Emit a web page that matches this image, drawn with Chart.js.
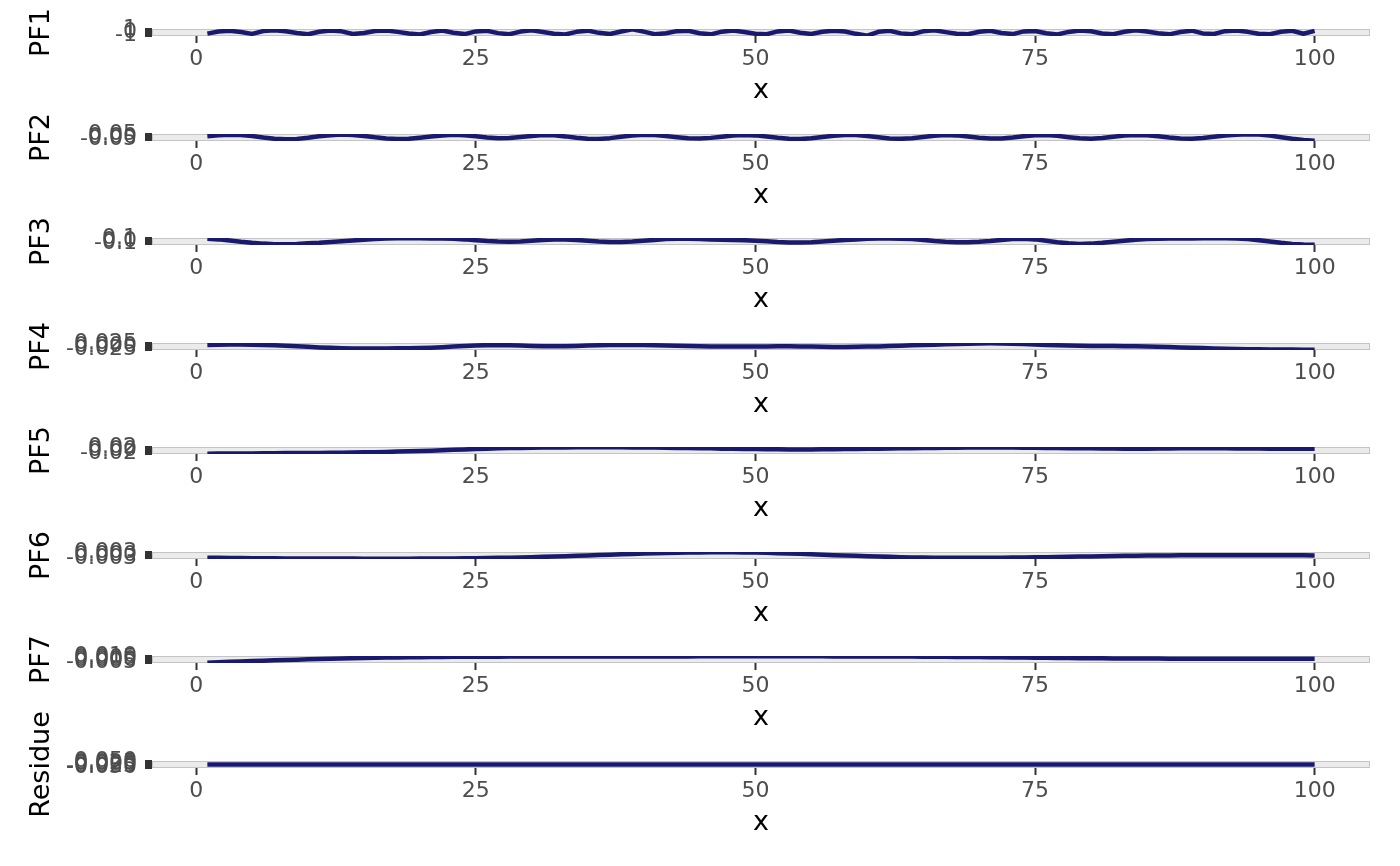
<!DOCTYPE html>
<html>
<head>
<meta charset="utf-8">
<script src="https://cdn.jsdelivr.net/npm/chart.js@4/dist/chart.umd.min.js"></script>
<style>
html,body{margin:0;padding:0;background:#ffffff;width:1400px;height:866px;overflow:hidden;position:relative;}
canvas{position:absolute;left:0;display:block;}
</style>
</head>
<body>
<script>
// ---------- data ----------
const xValues = [1,2,3,4,5,6,7,8,9,10,11,12,13,14,15,16,17,18,19,20,
21,22,23,24,25,26,27,28,29,30,31,32,33,34,35,36,37,38,39,40,
41,42,43,44,45,46,47,48,49,50,51,52,53,54,55,56,57,58,59,60,
61,62,63,64,65,66,67,68,69,70,71,72,73,74,75,76,77,78,79,80,
81,82,83,84,85,86,87,88,89,90,91,92,93,94,95,96,97,98,99,100];

const xTickLabels = ["0","25","50","75","100"];

const panelNames = ["PF1","PF2","PF3","PF4","PF5","PF6","PF7","Residue"];

const pf1 = [-0.42,0.31,0.58,0.12,-0.51,0.46,0.72,0.38,-0.18,-0.65,
0.24,0.69,0.37,-0.55,-0.22,0.51,0.63,0.19,-0.38,-0.74,
0.17,0.66,-0.09,-0.58,0.35,0.54,-0.24,-0.63,0.29,0.71,
0.15,-0.47,-0.69,0.21,0.62,-0.15,-0.56,0.33,1.08,0.28,
-0.61,-0.31,0.45,0.57,-0.26,-0.66,0.27,0.64,0.16,-0.43,
-0.62,0.36,0.67,-0.13,-0.54,0.25,0.61,0.34,-0.49,-1.13,
0.21,0.56,-0.33,-0.59,0.38,0.73,0.11,-0.46,-0.64,0.23,
0.59,-0.21,-0.57,0.35,0.51,-0.27,-0.68,0.18,0.65,0.41,
-0.39,-0.60,0.26,0.74,0.33,-0.28,-0.66,0.15,0.61,-0.35,
-0.53,0.43,0.69,0.20,-0.48,-0.61,0.24,0.55,-0.44,0.52];

const pf2 = [0.012,0.028,0.041,0.036,0.015,-0.012,-0.034,-0.045,-0.038,-0.016,
0.011,0.032,0.043,0.037,0.018,-0.008,-0.029,-0.041,-0.036,-0.017,
0.006,0.027,0.039,0.031,0.012,-0.011,-0.027,-0.022,-0.004,0.018,
0.034,0.029,0.009,-0.016,-0.035,-0.039,-0.024,0.002,0.025,0.038,
0.033,0.014,-0.009,-0.028,-0.033,-0.019,0.004,0.026,0.037,0.028,
0.006,-0.018,-0.036,-0.041,-0.027,-0.003,0.021,0.036,0.034,0.015,
-0.008,-0.029,-0.037,-0.025,-0.002,0.022,0.035,0.028,0.007,-0.017,
-0.033,-0.031,-0.012,0.013,0.032,0.036,0.019,-0.006,-0.027,-0.034,
-0.021,0.003,0.024,0.035,0.029,0.011,-0.013,-0.031,-0.036,-0.022,
0.002,0.026,0.041,0.048,0.043,0.025,-0.006,-0.035,-0.058,-0.072];

const pf3 = [0.08,0.06,0.02,-0.03,-0.07,-0.10,-0.12,-0.12,-0.11,-0.09,
-0.07,-0.04,-0.01,0.02,0.05,0.07,0.09,0.10,0.10,0.10,
0.09,0.09,0.08,0.06,0.03,0.00,-0.02,-0.03,-0.02,0.01,
0.04,0.06,0.06,0.04,0.01,-0.02,-0.04,-0.04,-0.02,0.01,
0.04,0.07,0.08,0.08,0.07,0.06,0.05,0.04,0.03,0.01,
-0.01,-0.04,-0.06,-0.06,-0.05,-0.02,0.01,0.04,0.06,0.08,
0.09,0.09,0.08,0.07,0.04,0.00,-0.03,-0.05,-0.05,-0.03,
0.00,0.04,0.07,0.08,0.06,0.01,-0.05,-0.09,-0.11,-0.10,
-0.07,-0.03,0.01,0.05,0.07,0.08,0.09,0.09,0.09,0.10,
0.10,0.10,0.09,0.07,0.03,-0.02,-0.07,-0.11,-0.13,-0.14];

const pf4 = [0.012,0.014,0.015,0.015,0.014,0.012,0.009,0.005,0.000,-0.005,
-0.010,-0.014,-0.017,-0.019,-0.020,-0.020,-0.019,-0.018,-0.017,-0.015,
-0.012,-0.008,-0.003,0.002,0.007,0.010,0.011,0.009,0.006,0.003,
0.001,0.000,0.001,0.003,0.006,0.009,0.011,0.012,0.012,0.011,
0.009,0.007,0.005,0.003,0.001,-0.001,-0.002,-0.003,-0.003,-0.002,
-0.001,0.000,0.000,-0.001,-0.003,-0.005,-0.006,-0.006,-0.005,-0.003,
-0.001,0.002,0.005,0.008,0.011,0.014,0.017,0.020,0.023,0.025,
0.026,0.025,0.023,0.020,0.016,0.012,0.009,0.006,0.004,0.003,
0.002,0.002,0.001,0.000,-0.002,-0.004,-0.007,-0.010,-0.013,-0.016,
-0.019,-0.022,-0.024,-0.026,-0.027,-0.028,-0.029,-0.029,-0.030,-0.030];

const pf5 = [-0.024,-0.023,-0.023,-0.022,-0.022,-0.021,-0.021,-0.020,-0.020,-0.019,
-0.019,-0.018,-0.017,-0.016,-0.015,-0.014,-0.012,-0.010,-0.008,-0.006,
-0.004,-0.001,0.002,0.005,0.008,0.010,0.012,0.014,0.015,0.016,
0.017,0.018,0.018,0.019,0.019,0.019,0.019,0.019,0.018,0.018,
0.017,0.016,0.015,0.014,0.013,0.012,0.010,0.009,0.008,0.007,
0.006,0.006,0.005,0.005,0.005,0.006,0.006,0.007,0.008,0.009,
0.010,0.011,0.012,0.013,0.014,0.015,0.016,0.016,0.017,0.017,
0.017,0.017,0.017,0.016,0.016,0.015,0.014,0.013,0.013,0.012,
0.011,0.011,0.010,0.010,0.010,0.011,0.011,0.012,0.012,0.012,
0.012,0.012,0.011,0.011,0.011,0.010,0.010,0.010,0.009,0.009];

const pf6 = [-0.0028,-0.0029,-0.0030,-0.0031,-0.0032,-0.0033,-0.0034,-0.0035,-0.0035,-0.0036,
-0.0036,-0.0037,-0.0037,-0.0037,-0.0038,-0.0038,-0.0038,-0.0038,-0.0038,-0.0037,
-0.0037,-0.0036,-0.0035,-0.0034,-0.0033,-0.0031,-0.0029,-0.0027,-0.0024,-0.0021,
-0.0018,-0.0014,-0.0010,-0.0006,-0.0002,0.0002,0.0006,0.0010,0.0014,0.0018,
0.0021,0.0024,0.0027,0.0029,0.0031,0.0032,0.0032,0.0032,0.0031,0.0029,
0.0026,0.0023,0.0019,0.0015,0.0010,0.0006,0.0001,-0.0003,-0.0007,-0.0011,
-0.0015,-0.0018,-0.0021,-0.0024,-0.0026,-0.0027,-0.0028,-0.0029,-0.0029,-0.0029,
-0.0028,-0.0027,-0.0026,-0.0025,-0.0023,-0.0021,-0.0019,-0.0017,-0.0015,-0.0013,
-0.0011,-0.0009,-0.0007,-0.0005,-0.0004,-0.0003,-0.0002,-0.0001,0.0000,0.0000,
0.0001,0.0001,0.0001,0.0001,0.0001,0.0000,0.0000,-0.0001,-0.0001,-0.0002];

const pf7 = [-0.0062,-0.0052,-0.0042,-0.0032,-0.0023,-0.0014,-0.0005,0.0004,0.0012,0.0020,
0.0028,0.0035,0.0042,0.0048,0.0054,0.0059,0.0064,0.0068,0.0072,0.0075,
0.0078,0.0080,0.0082,0.0084,0.0085,0.0086,0.0087,0.0088,0.0088,0.0089,
0.0089,0.0089,0.0090,0.0090,0.0090,0.0091,0.0091,0.0091,0.0092,0.0092,
0.0092,0.0093,0.0093,0.0093,0.0094,0.0094,0.0094,0.0095,0.0095,0.0095,
0.0095,0.0095,0.0095,0.0094,0.0094,0.0094,0.0093,0.0093,0.0092,0.0092,
0.0091,0.0090,0.0089,0.0088,0.0087,0.0085,0.0083,0.0081,0.0079,0.0077,
0.0074,0.0071,0.0068,0.0065,0.0062,0.0059,0.0056,0.0053,0.0050,0.0048,
0.0046,0.0044,0.0042,0.0041,0.0040,0.0039,0.0038,0.0037,0.0037,0.0036,
0.0036,0.0035,0.0035,0.0035,0.0034,0.0034,0.0034,0.0034,0.0033,0.0033];

const residue = [0,0,0,0,0,0,0,0,0,0,
0,0,0,0,0,0,0,0,0,0,
0,0,0,0,0,0,0,0,0,0,
0,0,0,0,0,0,0,0,0,0,
0,0,0,0,0,0,0,0,0,0,
0,0,0,0,0,0,0,0,0,0,
0,0,0,0,0,0,0,0,0,0,
0,0,0,0,0,0,0,0,0,0,
0,0,0,0,0,0,0,0,0,0,
0,0,0,0,0,0,0,0,0,0];

const yTickLabelsPF1 = ["-1","0","1"];
const yTickLabelsPF2 = ["-0.05","0.00","0.05"];
const yTickLabelsPF3 = ["-0.1","0.0","0.1"];
const yTickLabelsPF4 = ["-0.025","0.000","0.025"];
const yTickLabelsPF5 = ["-0.02","0.00","0.02"];
const yTickLabelsPF6 = ["-0.003","0.000","0.003"];
const yTickLabelsPF7 = ["-0.005","0.000","0.005","0.010"];
const yTickLabelsRes = ["-0.050","-0.025","0.000","0.025","0.050"];

const seriesList = [pf1,pf2,pf3,pf4,pf5,pf6,pf7,residue];
const tickLabelList = [yTickLabelsPF1,yTickLabelsPF2,yTickLabelsPF3,yTickLabelsPF4,
                       yTickLabelsPF5,yTickLabelsPF6,yTickLabelsPF7,yTickLabelsRes];

// ---------- layout / style ----------
const FONT = "'DejaVu Sans', 'Liberation Sans', sans-serif";
const LINE_COLOR = '#191970';
const CANVAS_W = 1400, CANVAS_H = 150;
const AREA_TOP = 75;          // chart-area top inside each canvas
const PANEL_TOP0 = 29, PANEL_STEP = 104.57;

function expandRange(arr) {
  let lo = Math.min(...arr), hi = Math.max(...arr);
  if (hi === lo) { lo -= 0.05; hi += 0.05; }
  const pad = (hi - lo) * 0.05;
  return [lo - pad, hi + pad];
}

const xRange = expandRange(xValues);
const xTickValues = xTickLabels.map(Number);

const panelBg = {
  id: 'panelBg',
  beforeDraw(chart) {
    const {ctx, chartArea: a} = chart;
    ctx.save();
    ctx.fillStyle = '#EBEBEB';
    ctx.fillRect(a.left, a.top, a.right - a.left, a.bottom - a.top);
    ctx.strokeStyle = '#C4C4C4';
    ctx.lineWidth = 1;
    ctx.strokeRect(a.left + 0.5, a.top + 0.5, a.right - a.left - 1, a.bottom - a.top - 1);
    ctx.restore();
  }
};

function tickGrid(width) {
  return {
    display: true,
    drawOnChartArea: false,
    drawTicks: true,
    tickLength: 7,
    tickWidth: width,
    tickColor: '#333333'
  };
}

panelNames.forEach((name, i) => {
  const canvas = document.createElement('canvas');
  canvas.width = CANVAS_W;
  canvas.height = CANVAS_H;
  canvas.style.width = CANVAS_W + 'px';
  canvas.style.height = CANVAS_H + 'px';
  canvas.style.top = (Math.round(PANEL_TOP0 + PANEL_STEP * i) - AREA_TOP) + 'px';
  document.body.appendChild(canvas);

  const values = seriesList[i];
  const yr = expandRange(values);
  const labels = tickLabelList[i].filter(t => {
    const v = parseFloat(t);
    return v >= yr[0] && v <= yr[1];
  });

  new Chart(canvas, {
    type: 'line',
    data: {
      datasets: [{
        data: xValues.map((x, j) => ({x: x, y: values[j]})),
        borderColor: LINE_COLOR,
        borderWidth: 4.5,
        pointRadius: 0,
        fill: false,
        tension: 0,
        clip: 0,
        borderJoinStyle: 'round',
        borderCapStyle: 'butt'
      }]
    },
    options: {
      responsive: false,
      animation: false,
      devicePixelRatio: 1,
      events: [],
      layout: {padding: {top: AREA_TOP, left: 28, right: 30, bottom: 0}},
      plugins: {legend: {display: false}, tooltip: {enabled: false}},
      scales: {
        x: {
          type: 'linear',
          min: xRange[0],
          max: xRange[1],
          afterBuildTicks: s => { s.ticks = xTickValues.map(v => ({value: v})); },
          afterFit: s => { s.height = CANVAS_H - AREA_TOP - 7; },
          grid: tickGrid(2),
          border: {display: false},
          ticks: {
            autoSkip: false, maxRotation: 0, minRotation: 0, padding: 3,
            color: '#4D4D4D', font: {family: FONT, size: 22},
            callback: (v, idx) => xTickLabels[idx]
          },
          title: {display: true, text: 'x', color: '#000000',
                  font: {family: FONT, size: 27, lineHeight: 1}, padding: 0}
        },
        y: {
          type: 'linear',
          min: yr[0],
          max: yr[1],
          afterBuildTicks: s => { s.ticks = labels.map(t => ({value: parseFloat(t)})); },
          afterFit: s => { s.width = 124; },
          grid: tickGrid(3),
          border: {display: false},
          ticks: {
            autoSkip: false, padding: 8,
            color: '#4D4D4D', font: {family: FONT, size: 22},
            callback: (v, idx) => labels[idx]
          },
          title: {display: true, text: name, color: '#000000',
                  font: {family: FONT, size: 27, lineHeight: 1}, padding: 0}
        }
      }
    },
    plugins: [panelBg]
  });
});
</script>
</body>
</html>
